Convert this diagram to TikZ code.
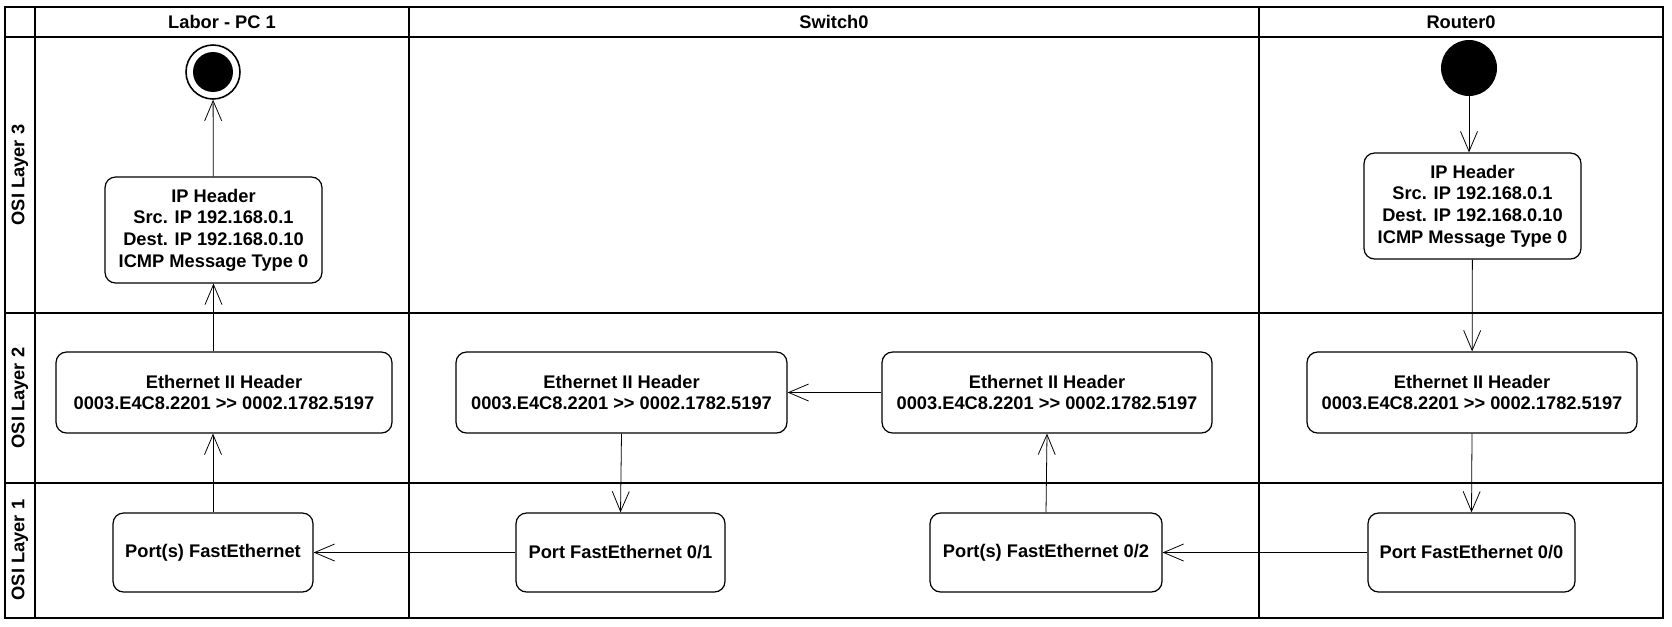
\documentclass[tikz,border=0pt]{standalone}
\usepackage{fontspec}
\setmainfont{Liberation Sans}
\usetikzlibrary{arrows.meta}
\usetikzlibrary{positioning}

\begin{document}
\begin{tikzpicture}[
    x=0.02cm, y=-0.02cm,
    font=\fontsize{10.4}{12.4}\selectfont\bfseries,
    lane/.style={line width=1.2pt},
    action/.style={draw, line width=0.7pt, rounded corners=6pt, align=center, inner sep=0pt},
    ipbox/.style={action, minimum width=4.34cm, minimum height=2.12cm},
    ethbox/.style={action, minimum width=6.6cm, minimum height=1.62cm},
    portbox/.style={action, minimum height=1.58cm},
    flow/.style={line width=0.45pt, -{Straight Barb[length=4mm,width=3.4mm]}},
  ]
  \useasboundingbox (0,0) rectangle (1672,626);

  % swimlanes
  \draw[lane] (5,7) rectangle (1663,618);
  \draw[lane] (5,37) -- (1663,37);
  \draw[lane] (5,313) -- (1663,313);
  \draw[lane] (5,483) -- (1663,483);
  \draw[lane] (35,7) -- (35,618);
  \draw[lane] (409,7) -- (409,618);
  \draw[lane] (1259,7) -- (1259,618);

  \node (pcHead) at (222,22) {Labor - PC 1};
  \node (swHead) at (834,22) {Switch0};
  \node (rtHead) at (1461,22) {Router0};
  \node[rotate=90] (layer3) at (20,175) {OSI Layer 3};
  \node[rotate=90] (layer2) at (20,398) {OSI Layer 2};
  \node[rotate=90] (layer1) at (20,550) {OSI Layer 1};

  % start and end
  \node[circle, fill, minimum size=1.12cm, inner sep=0pt] (init) at (1469,68) {};
  \node[circle, draw, line width=0.9pt, minimum size=1.08cm, inner sep=0pt] (final) at (213,72) {};
  \node[circle, fill, minimum size=0.8cm, inner sep=0pt] (finalDot) at (final) {};

  % layer 3
  \node[ipbox] (ipPC) at (213.5,230) {IP Header\\Src. IP 192.168.0.1\\Dest. IP 192.168.0.10\\ICMP Message Type 0};
  \node[ipbox] (ipRt) at (1472.5,206) {IP Header\\Src. IP 192.168.0.1\\Dest. IP 192.168.0.10\\ICMP Message Type 0};

  % layer 2
  \node[ethbox, minimum width=6.72cm] (ethPC) at (224,392.5) {Ethernet II Header\\0003.E4C8.2201 >{}> 0002.1782.5197};
  \node[ethbox, minimum width=6.62cm] (ethSw1) at (621.5,392.5) {Ethernet II Header\\0003.E4C8.2201 >{}> 0002.1782.5197};
  \node[ethbox] (ethSw2) at (1047,392.5) {Ethernet II Header\\0003.E4C8.2201 >{}> 0002.1782.5197};
  \node[ethbox] (ethRt) at (1472,392.5) {Ethernet II Header\\0003.E4C8.2201 >{}> 0002.1782.5197};

  % layer 1
  \node[portbox, minimum width=4.0cm] (portPC) at (213,552.5) {Port(s) FastEthernet};
  \node[portbox, minimum width=4.18cm] (portSw1) at (620.5,552.5) {Port FastEthernet 0/1};
  \node[portbox, minimum width=4.64cm] (portSw2) at (1046,552.5) {Port(s) FastEthernet 0/2};
  \node[portbox, minimum width=4.14cm] (portRt) at (1471.5,552.5) {Port FastEthernet 0/0};

  % flow
  \draw[flow] (init) -- (init |- ipRt.north);
  \draw[flow] (ipRt) -- (ethRt);
  \draw[flow] (ethRt.south) -- (portRt.north);
  \draw[flow] (portRt) -- (portSw2);
  \draw[flow] (portSw2.north) -- (ethSw2.south);
  \draw[flow] (ethSw2) -- (ethSw1);
  \draw[flow] (ethSw1.south) -- (portSw1.north);
  \draw[flow] (portSw1) -- (portPC);
  \draw[flow] (portPC.north) -- (portPC.north |- ethPC.south);
  \draw[flow] (ipPC.south |- ethPC.north) -- (ipPC.south);
  \draw[flow] (ipPC) -- (final);
\end{tikzpicture}
\end{document}
